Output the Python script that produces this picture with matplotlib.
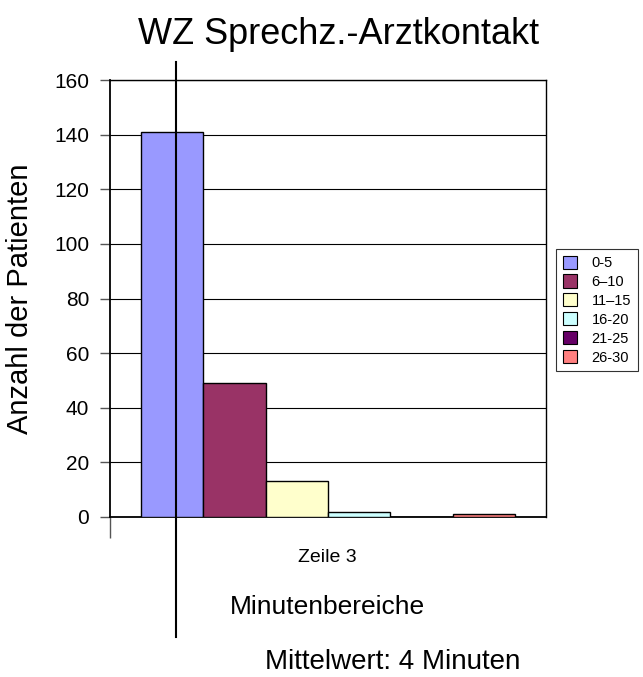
import matplotlib
matplotlib.use("Agg")
import matplotlib.pyplot as plt
from matplotlib.patches import Patch
from matplotlib.lines import Line2D

categories = ["0-5", "6\u201310", "11\u201315", "16-20", "21-25", "26-30"]
values = [141, 49, 13, 2, 0, 1]
colors = ["#9999FF", "#993366", "#FFFFCC", "#CCFFFF", "#660066", "#FF8080"]
yticks = [0, 20, 40, 60, 80, 100, 120, 140, 160]

plt.rcParams['font.family'] = ['Liberation Sans', 'DejaVu Sans']

fig = plt.figure(figsize=(6.43, 6.77), dpi=100)
W, H = 643, 677
ax = fig.add_axes([110 / W, (H - 517) / H, 436 / W, 437 / H])

pos = list(range(len(values)))
ax.bar(pos, values, width=1.0, color=colors, edgecolor="black", linewidth=1.0, zorder=3)
ax.set_xlim(-1, len(values))
ax.set_ylim(0, 160)
ax.set_yticks(yticks)
ax.set_yticklabels([str(t) for t in yticks], fontsize=15)
ax.tick_params(axis='y', length=7, width=1, color='#555555', pad=8)
ax.set_xticks([-1])
ax.set_xticklabels([""])
ax.tick_params(axis='x', length=15, width=1, color='#555555')
ax.yaxis.grid(True, color="black", linewidth=0.8, zorder=0)
for s in ax.spines.values():
    s.set_linewidth(1.0)
    s.set_color("black")
ax.spines['left'].set_linewidth(1.3)
ax.spines['bottom'].set_linewidth(1.3)

ax.set_ylabel("Anzahl der Patienten", fontsize=21)
ax.yaxis.set_label_coords(-(110 - 34) / 436, 0.5)

fig.text(339 / W, 1 - 34 / H, "WZ Sprechz.-Arztkontakt", ha="center", va="center", fontsize=26)
fig.text(327 / W, 1 - 557 / H, "Zeile 3", ha="center", va="center", fontsize=14)
fig.text(327 / W, 1 - 607 / H, "Minutenbereiche", ha="center", va="center", fontsize=19)
fig.text(393 / W, 1 - 662 / H, "Mittelwert: 4 Minuten", ha="center", va="center", fontsize=20)

# vertical marker line
fig.add_artist(Line2D([176 / W, 176 / W], [1 - 62 / H, 1 - 637 / H], color="black", linewidth=1.5,
                      transform=fig.transFigure))

handles = [Patch(facecolor=c, edgecolor="black", linewidth=0.8) for c in colors]
leg = fig.legend(handles, categories, loc="upper left", bbox_to_anchor=(556 / W, 1 - 249 / H),
                 fontsize=10.5, frameon=True, fancybox=False, edgecolor="black",
                 handlelength=1.0, handleheight=1.0, handletextpad=1.0, labelspacing=0.3,
                 borderpad=0.45, borderaxespad=0)
leg.get_frame().set_linewidth(0.8)

fig.savefig("out.png", dpi=100)
